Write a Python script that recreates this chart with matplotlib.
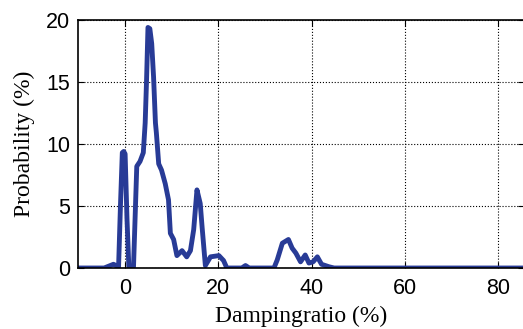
import matplotlib
matplotlib.use('Agg')
import matplotlib.pyplot as plt

# damping ratio (%) vs probability (%)
damping = [-10, -4.5, -2.5, -1.4, -1.0, -0.6, -0.3, 0.0, 0.4, 0.8, 1.8,
           2.5, 3.2, 3.9, 4.3, 4.6, 4.9, 5.3, 5.7, 6.1, 6.5, 6.7,
           7.2, 7.8, 8.6, 9.3, 9.7, 10.4, 11.1, 12.2, 13.2, 14.0, 14.7,
           15.4, 16.1, 16.5, 17.2, 18.3, 20.1, 21.1, 21.8, 25.0, 25.8, 26.6,
           31.9, 32.6, 33.7, 35.0, 35.8, 36.6, 37.6, 38.6, 39.4, 40.3,
           41.2, 42.1, 43.7, 44.8, 90]
prob = [0, 0, 0.3, 0.1, 5.0, 9.3, 9.4, 9.2, 4.0, 0.1, 0.1,
        8.2, 8.6, 9.3, 11.7, 15.2, 19.4, 19.3, 18.1, 15.4, 11.7, 10.9,
        8.4, 7.9, 6.8, 5.5, 2.8, 2.3, 1.0, 1.4, 0.9, 1.4, 3.1,
        6.3, 5.2, 3.3, 0.2, 0.9, 1.0, 0.6, 0.0, 0.0, 0.2, 0.0,
        0.0, 0.65, 2.0, 2.3, 1.6, 1.2, 0.5, 1.05, 0.4, 0.5,
        0.9, 0.3, 0.1, 0.0, 0.0]

xticks = [0, 20, 40, 60, 80]
yticks = [0, 5, 10, 15, 20]

fig = plt.figure(figsize=(5.23, 3.29), dpi=100)
ax = fig.add_axes([0.150, 0.1854, 0.852, 0.7538])

ax.plot(damping, prob, color='#283b96', linewidth=3.5, solid_joinstyle='round')
ax.set_xlim(-10, 85.5)
ax.set_ylim(0, 20)
ax.set_xticks(xticks)
ax.set_yticks(yticks)
ax.grid(True, color='black', linestyle=':', linewidth=0.8)
ax.tick_params(direction='in', top=True, right=True, length=4,
               labelsize=15.5)
ax.tick_params(axis='x', pad=7)
ax.tick_params(axis='y', pad=6)
for lab in ax.get_xticklabels() + ax.get_yticklabels():
    lab.set_family('Liberation Sans')
for sp in ax.spines.values():
    sp.set_linewidth(1.2)

ax.set_xlabel('Dampingratio (%)', family='Liberation Serif', fontsize=17, labelpad=5)
ax.set_ylabel('Probability (%)', family='Liberation Serif', fontsize=17, labelpad=8)

fig.savefig('out.png', dpi=100)
